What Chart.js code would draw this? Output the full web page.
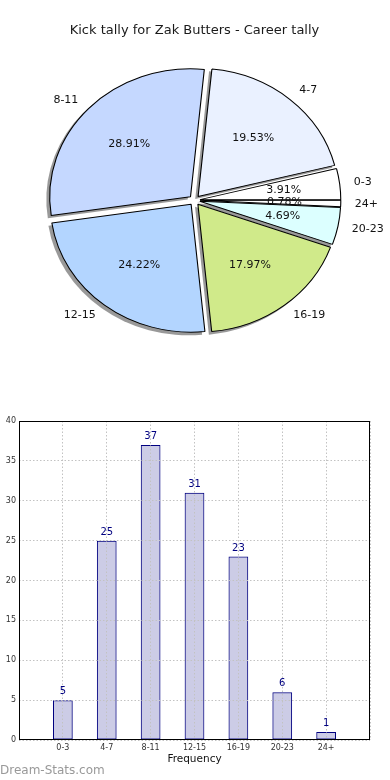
<!DOCTYPE html>
<html>
<head>
<meta charset="utf-8">
<title>Kick tally for Zak Butters</title>
<script src="https://cdn.jsdelivr.net/npm/chart.js@4.4.0/dist/chart.umd.min.js"></script>
<style>
  body { margin: 0; background: #fff; }
  #page { position: relative; width: 390px; height: 780px; overflow: hidden; }
  #pieChart { position: absolute; left: 0; top: 0; }
  #barChart { position: absolute; left: 0; top: 400px; }
  #watermark { position: absolute; left: 0; top: 763px; font: 12px "DejaVu Sans", sans-serif; color: #999; line-height: 14px; }
</style>
</head>
<body>
<div id="page">
  <canvas id="pieChart" width="390" height="400"></canvas>
  <canvas id="barChart" width="390" height="380"></canvas>
  <div id="watermark">Dream-Stats.com</div>
</div>
<script>
// kick tally per game, grouped
const categories = ['0-3', '4-7', '8-11', '12-15', '16-19', '20-23', '24+'];
const kicks = [5, 25, 37, 31, 23, 6, 1];
const sliceColors = ['#ffffff', '#eaf1ff', '#c5d8ff', '#b3d5ff', '#d0ea8a', '#dcffff', '#ffffff'];
const yMax = 40;
const yStep = 5;

Chart.defaults.font.family = "'DejaVu Sans', sans-serif";
Chart.defaults.color = '#222';

const total = kicks.reduce((a, b) => a + b, 0);

// matplotlib goes counter-clockwise from 3 o'clock, chart.js clockwise -> reverse
const pieLabels = categories.slice().reverse();
const pieValues = kicks.slice().reverse();
const pieColors = sliceColors.slice().reverse();

const EXPLODE = 5;
const STRETCH = 1.1;
const SHADOW = 2.6;

const pieDraw = {
    id: 'pieDraw',
    beforeDatasetsDraw(chart) {
        const ctx = chart.ctx;
        const arcs = chart.getDatasetMeta(0).data;
        const cx = arcs[0].x, cy = arcs[0].y;
        ctx.save();
        ctx.translate(cx, cy);
        ctx.scale(STRETCH, 1);
        ctx.translate(-cx, -cy);
        // shadows first
        arcs.forEach(arc => {
            const mid = (arc.startAngle + arc.endAngle) / 2;
            ctx.save();
            ctx.translate(Math.cos(mid) * EXPLODE - SHADOW, Math.sin(mid) * EXPLODE + SHADOW);
            ctx.beginPath();
            ctx.moveTo(arc.x, arc.y);
            ctx.arc(arc.x, arc.y, arc.outerRadius + 0.5, arc.startAngle, arc.endAngle);
            ctx.closePath();
            ctx.fillStyle = 'rgba(70,70,70,0.55)';
            ctx.fill();
            ctx.restore();
        });
        arcs.forEach(arc => {
            const mid = (arc.startAngle + arc.endAngle) / 2;
            ctx.save();
            ctx.translate(Math.cos(mid) * EXPLODE, Math.sin(mid) * EXPLODE);
            arc.draw(ctx);
            ctx.restore();
        });
        ctx.restore();
        return false;
    },
    afterDraw(chart) {
        const ctx = chart.ctx;
        const arcs = chart.getDatasetMeta(0).data;
        const cx = arcs[0].x, cy = arcs[0].y;
        ctx.save();
        ctx.font = '11px "DejaVu Sans"';
        ctx.fillStyle = '#111';
        ctx.textBaseline = 'middle';
        arcs.forEach((arc, i) => {
            const mid = (arc.startAngle + arc.endAngle) / 2;
            const c = Math.cos(mid), s = Math.sin(mid);
            const rp = 0.6 * arc.outerRadius + EXPLODE;
            ctx.textAlign = 'center';
            ctx.fillText((pieValues[i] / total * 100).toFixed(2) + '%', cx + STRETCH * rp * c, cy + rp * s);
            const rl = 1.1 * arc.outerRadius + EXPLODE;
            ctx.textAlign = c >= 0 ? 'left' : 'right';
            ctx.fillText(pieLabels[i], cx + STRETCH * rl * c, cy + rl * s);
        });
        ctx.restore();
    }
};

new Chart(document.getElementById('pieChart'), {
    type: 'pie',
    data: {
        labels: pieLabels,
        datasets: [{
            data: pieValues,
            backgroundColor: pieColors,
            borderColor: '#000',
            borderWidth: 1,
            radius: 128
        }]
    },
    options: {
        responsive: false,
        animation: false,
        events: [],
        rotation: 90,
        layout: { padding: { left: 0, right: 1, top: 0, bottom: 37.6 } },
        plugins: {
            legend: { display: false },
            tooltip: { enabled: false },
            title: {
                display: true,
                text: 'Kick tally for Zak Butters - Career tally',
                color: '#1a1a1a',
                font: { size: 13, weight: 'normal' },
                padding: { top: 22.5, bottom: 0 }
            }
        }
    },
    plugins: [pieDraw]
});

// empty slot each side so the bars sit one unit in from the frame
const barLabels = ['', ...categories, ''];
const barValues = [null, ...kicks, null];

const barValueLabels = {
    id: 'barValueLabels',
    afterDraw(chart) {
        const ctx = chart.ctx;
        const bars = chart.getDatasetMeta(0).data;
        ctx.save();
        ctx.font = '10px "DejaVu Sans"';
        ctx.fillStyle = '#000080';
        ctx.textAlign = 'center';
        ctx.textBaseline = 'bottom';
        bars.forEach((bar, i) => {
            if (barValues[i] == null) return;
            ctx.fillText(barValues[i], bar.x, bar.y - 3.5);
        });
        // frame round the axes
        const a = chart.chartArea;
        ctx.strokeStyle = '#000';
        ctx.lineWidth = 1;
        ctx.strokeRect(Math.round(a.left) + 0.5, Math.round(a.top) + 0.5, Math.round(a.right - a.left) - 1, Math.round(a.bottom - a.top) - 1);
        ctx.restore();
    }
};

const gridOpts = { color: '#c2c2c2', lineWidth: 1, drawTicks: false, z: 1 };

new Chart(document.getElementById('barChart'), {
    type: 'bar',
    data: {
        labels: barLabels,
        datasets: [{
            data: barValues,
            backgroundColor: 'rgba(0,0,128,0.2)',
            borderColor: '#000080',
            borderWidth: 1,
            borderSkipped: false,
            barPercentage: 0.45,
            categoryPercentage: 1
        }]
    },
    options: {
        responsive: false,
        animation: false,
        events: [],
        layout: { padding: { left: 0, right: 20, top: 21, bottom: 0 } },
        plugins: { legend: { display: false }, tooltip: { enabled: false } },
        scales: {
            x: {
                offset: false,
                grid: { ...gridOpts, offset: false },
                border: { display: false, dash: [1.5, 2] },
                ticks: { autoSkip: false, maxRotation: 0, padding: 3, color: '#333', font: { size: 8 } },
                title: { display: true, text: 'Frequency', color: '#111', font: { size: 10.5 }, padding: { top: 0, bottom: 14 } },
                afterFit(scale) { scale.height = 40; }
            },
            y: {
                min: 0,
                max: yMax,
                grid: gridOpts,
                border: { display: false, dash: [1.5, 2] },
                ticks: { stepSize: yStep, padding: 3, color: '#333', font: { size: 8 } },
                afterFit(scale) { scale.width = 19; }
            }
        }
    },
    plugins: [barValueLabels]
});
</script>
</body>
</html>
